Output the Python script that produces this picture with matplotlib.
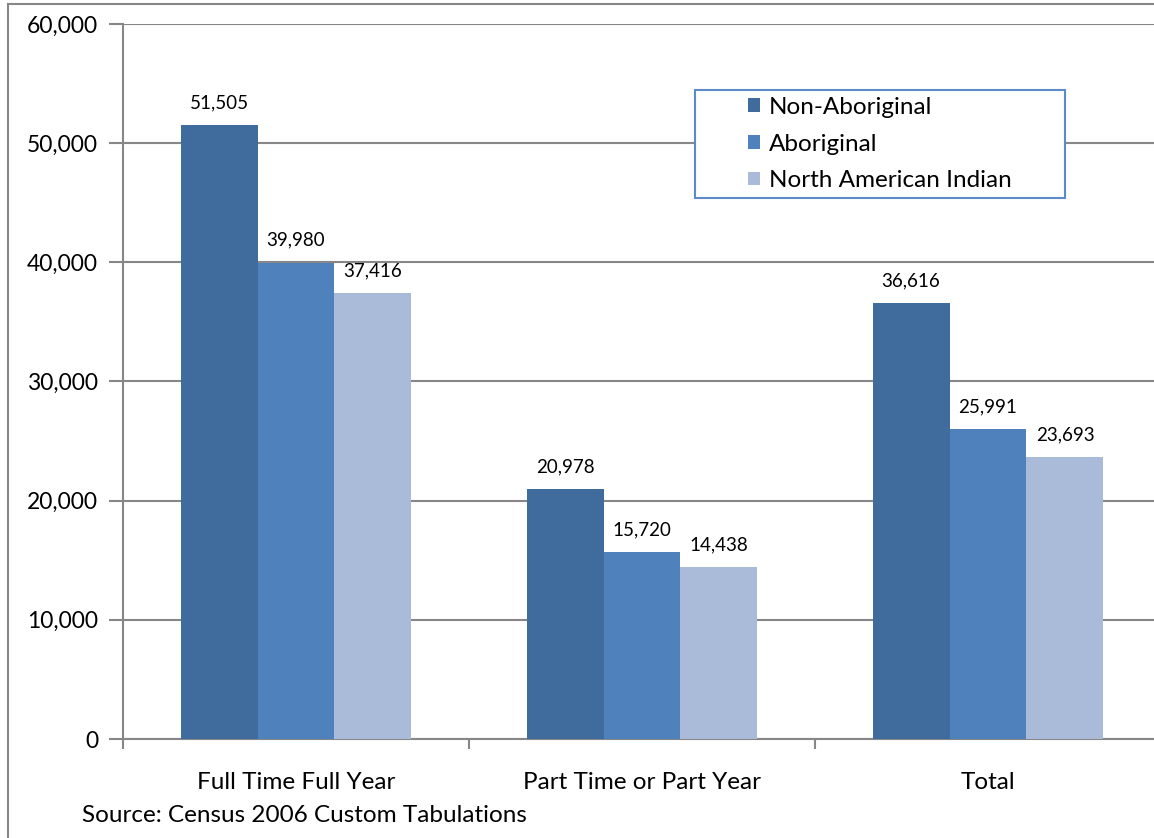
import matplotlib.pyplot as plt
import numpy as np
from matplotlib.lines import Line2D
from matplotlib.patches import Rectangle

plt.rcParams['font.family'] = ['Lato', 'DejaVu Sans']

# data
categories = ["Full Time Full Year", "Part Time or Part Year", "Total"]
non_aboriginal = [51505, 20978, 36616]
aboriginal = [39980, 15720, 25991]
north_american_indian = [37416, 14438, 23693]
series_names = ["Non-Aboriginal", "Aboriginal", "North American Indian"]
colors = ["#406B9D", "#4F81BD", "#AABBD9"]

W, H = 1154, 838
fig = plt.figure(figsize=(W / 100, H / 100), dpi=100)
ax = fig.add_axes([123 / W, 1 - 739 / H, 1038 / W, 715 / H])

x = np.arange(len(categories))
w = 0.2225
series = [non_aboriginal, aboriginal, north_american_indian]
for i, (vals, name, c) in enumerate(zip(series, series_names, colors)):
    pos = x + (i - 1) * w
    ax.bar(pos, vals, w, color=c, label=name, zorder=3)
    for p, v in zip(pos, vals):
        ax.text(p, v + 1150, f"{v:,}", ha="center", va="bottom", fontsize=13.5)

ax.set_xlim(-0.5, 2.5)
ax.set_ylim(0, 60000)
ax.set_yticks(np.arange(0, 60001, 10000))
ax.set_yticklabels([f"{t:,}" for t in range(0, 60001, 10000)], fontsize=16.5)
ax.yaxis.grid(True, color="#878787", linewidth=1.5, zorder=0)

# category ticks at group boundaries
ax.set_xticks([-0.5, 0.5, 1.5], minor=False)
ax.set_xticklabels([])
ax.set_xticks(x, minor=True)
ax.set_xticklabels(categories, minor=True, fontsize=17.5)
ax.tick_params(axis="x", which="minor", length=0, pad=23.5)
ax.tick_params(axis="x", which="major", length=7, width=1.5, color="#878787", direction="out")
ax.tick_params(axis="y", length=10, width=1.5, color="#878787", pad=8)

for s in ["top", "right"]:
    ax.spines[s].set_visible(False)
for s in ["left", "bottom"]:
    ax.spines[s].set_color("#878787")
    ax.spines[s].set_linewidth(1.5)

# legend box drawn separately to get the wide side padding
def ax_x(px):
    return (px - 123) / 1038

def ax_y(py):
    return 1 - (py - 24) / 715

ax.add_patch(Rectangle((ax_x(695), ax_y(198)), ax_x(1065) - ax_x(695), ax_y(90) - ax_y(198),
                       transform=ax.transAxes, facecolor="white", edgecolor="#5B8BC8",
                       linewidth=1.5, zorder=4))
leg = ax.legend(loc="upper left", bbox_to_anchor=(ax_x(748), ax_y(97)),
                fontsize=17.5, frameon=False, handlelength=0.5, handleheight=0.5,
                handletextpad=0.35, labelspacing=0.64, borderpad=0, borderaxespad=0)
leg.set_zorder(5)

# outer chart border and source note
fig.add_artist(Line2D([8 / W, 8 / W], [0, 1 - 4 / H], transform=fig.transFigure,
                      color="#878787", linewidth=1.5))
fig.add_artist(Line2D([8 / W, 1], [1 - 4 / H, 1 - 4 / H], transform=fig.transFigure,
                      color="#878787", linewidth=1.5))
fig.text(82 / W, 1 - 815 / H, "Source: Census 2006 Custom Tabulations", fontsize=17.5,
         va="center", ha="left")

fig.savefig("out.png", dpi=100)
